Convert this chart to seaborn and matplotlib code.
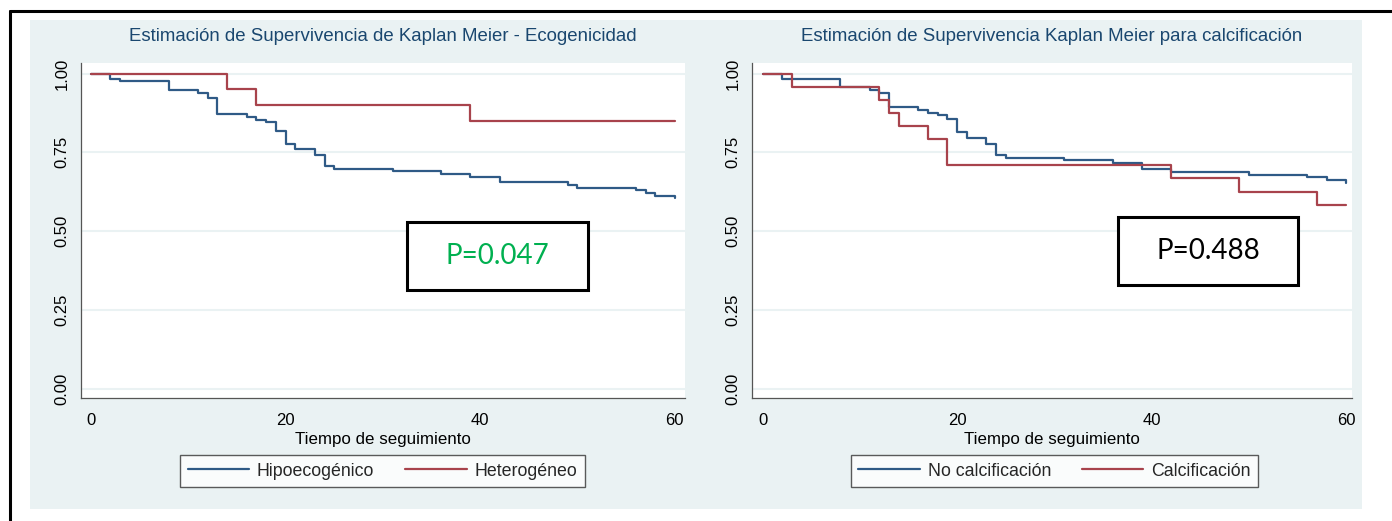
import matplotlib
matplotlib.use("Agg")
import matplotlib.pyplot as plt
from matplotlib.patches import Rectangle
from matplotlib.lines import Line2D
import pandas as pd
import seaborn as sns

# Kaplan-Meier step estimates: survival after each event time (months)
hipo_time = [0, 2, 3, 8, 11, 12, 13, 16, 17, 18, 19, 20, 21, 23, 24, 25, 31, 36, 39, 42, 49, 50, 56, 57, 58, 60]
hipo_surv = [1.0, 0.984, 0.975, 0.948, 0.939, 0.923, 0.871, 0.862, 0.853, 0.845, 0.819, 0.777, 0.759,
             0.741, 0.707, 0.698, 0.690, 0.682, 0.673, 0.655, 0.647, 0.638, 0.630, 0.620, 0.612, 0.605]
hetero_time = [0, 14, 17, 39, 60]
hetero_surv = [1.0, 0.95, 0.90, 0.85, 0.85]

nocalc_time = [0, 2, 8, 11, 12, 13, 16, 17, 18, 19, 20, 21, 23, 24, 25, 31, 36, 39, 42, 50, 56, 58, 60]
nocalc_surv = [1.0, 0.982, 0.956, 0.947, 0.937, 0.893, 0.884, 0.876, 0.867, 0.857, 0.814, 0.795, 0.777,
               0.742, 0.732, 0.724, 0.715, 0.698, 0.688, 0.679, 0.671, 0.661, 0.654]
calc_time = [0, 3, 12, 13, 14, 17, 19, 42, 49, 57, 60]
calc_surv = [1.0, 0.958, 0.917, 0.876, 0.833, 0.792, 0.709, 0.668, 0.625, 0.584, 0.584]

eco_labels = ["Hipoecogénico", "Heterogéneo"]
calc_labels = ["No calcificación", "Calcificación"]
titles = ["Estimación de Supervivencia de Kaplan Meier - Ecogenicidad",
          "Estimación de Supervivencia Kaplan Meier para calcificación"]
p_texts = ["P=0.047", "P=0.488"]
x_ticks = [0, 20, 40, 60]
y_ticks = [0.00, 0.25, 0.50, 0.75, 1.00]
y_ticklabels = ["0.00", "0.25", "0.50", "0.75", "1.00"]
x_label = "Tiempo de seguimiento"

NAVY = "#2f5a86"
MAROON = "#a8434c"
BG = "#eaf2f3"
TITLE_C = "#1a476f"
AXIS_C = "#555555"

sns.set_theme(style="white")
plt.rcParams["font.family"] = ["Liberation Sans", "DejaVu Sans"]

W, H = 1392, 521
fig = plt.figure(figsize=(W / 100, H / 100), dpi=100)
fig.patch.set_facecolor("white")

# panel background and frame lines
fig.add_artist(Rectangle((30 / W, 1 - 509 / H), (1362 - 30) / W, (509 - 20) / H,
                         transform=fig.transFigure, facecolor=BG, edgecolor="none", zorder=-5))
fig.add_artist(Line2D([9.5 / W, 1.0], [1 - 11 / H, 1 - 11 / H], transform=fig.transFigure,
                      color="black", lw=2.2, zorder=20))
fig.add_artist(Line2D([9.5 / W, 9.5 / W], [0.0, 1 - 11 / H], transform=fig.transFigure,
                      color="black", lw=2.2, zorder=20))


def make_frame(t1, s1, t2, s2, labels):
    a = pd.DataFrame({"Tiempo": t1, "Supervivencia": s1, "Grupo": labels[0]})
    b = pd.DataFrame({"Tiempo": t2, "Supervivencia": s2, "Grupo": labels[1]})
    return pd.concat([a, b], ignore_index=True)


panels = [
    dict(df=make_frame(hipo_time, hipo_surv, hetero_time, hetero_surv, eco_labels), labels=eco_labels,
         rect=[80.5 / W, 1 - 398 / H, 604.5 / W, 335.5 / H], xlim=(-1.08, 61.05),
         box=(406.7, 221.7, 588, 290), pcolor="#00b050", legend_cx=382.5),
    dict(df=make_frame(nocalc_time, nocalc_surv, calc_time, calc_surv, calc_labels), labels=calc_labels,
         rect=[751.7 / W, 1 - 398 / H, 600.3 / W, 335.5 / H], xlim=(-1.13, 60.62),
         box=(1118, 217, 1298, 285), pcolor="black", legend_cx=1054.5),
]

for i, p in enumerate(panels):
    ax = fig.add_axes(p["rect"])
    ax.set_facecolor("white")
    sns.lineplot(data=p["df"], x="Tiempo", y="Supervivencia", hue="Grupo", hue_order=p["labels"],
                 palette=[NAVY, MAROON], estimator=None, drawstyle="steps-post", lw=1.6,
                 legend=False, ax=ax)
    ax.set_xlim(*p["xlim"])
    ax.set_ylim(-0.030, 1.035)
    ax.set_xticks(x_ticks)
    ax.set_yticks(y_ticks)
    ax.set_yticklabels(y_ticklabels, rotation=90, va="center")
    ax.yaxis.grid(True, color=BG, lw=1.5)
    ax.xaxis.grid(False)
    ax.set_axisbelow(True)
    for side in ("top", "right"):
        ax.spines[side].set_visible(False)
    for side in ("left", "bottom"):
        ax.spines[side].set_color(AXIS_C)
        ax.spines[side].set_linewidth(0.9)
    ax.tick_params(axis="both", direction="out", length=5, width=0.9, color=AXIS_C,
                   labelsize=12, labelcolor="black")
    ax.tick_params(axis="x", pad=6)
    ax.tick_params(axis="y", pad=3)
    ax.set_xlabel(x_label, fontsize=12.2, labelpad=2.5, color="black")
    ax.set_ylabel("")
    ax.set_title(titles[i], fontsize=13.4, color=TITLE_C, pad=15.5)

    # p-value annotation box
    x0, y0, x1, y1 = p["box"]
    fx0, fy0 = x0 / W, 1 - y1 / H
    fig.add_artist(Rectangle((fx0, fy0), (x1 - x0) / W, (y1 - y0) / H, transform=fig.transFigure,
                             facecolor="white", edgecolor="black", lw=2.2, zorder=5))
    fig.text((x0 + x1) / 2 / W, 1 - (y0 + y1) / 2 / H, p_texts[i], ha="center", va="center",
             fontsize=20, color=p["pcolor"], family=["Lato", "DejaVu Sans"], zorder=6)

    handles = [Line2D([], [], color=NAVY, lw=1.6), Line2D([], [], color=MAROON, lw=1.6)]
    leg = ax.legend(handles, p["labels"], loc="center", ncol=2,
                    bbox_to_anchor=(p["legend_cx"] / W, 1 - 471 / H), bbox_transform=fig.transFigure,
                    fontsize=12.8, frameon=True, fancybox=False, edgecolor="#333333",
                    handlelength=3.45, handletextpad=0.45, columnspacing=1.75, borderpad=0.4)
    leg.get_frame().set_linewidth(1.0)
    leg.get_frame().set_facecolor("white")

fig.savefig("out.png", dpi=100, facecolor=fig.get_facecolor())
